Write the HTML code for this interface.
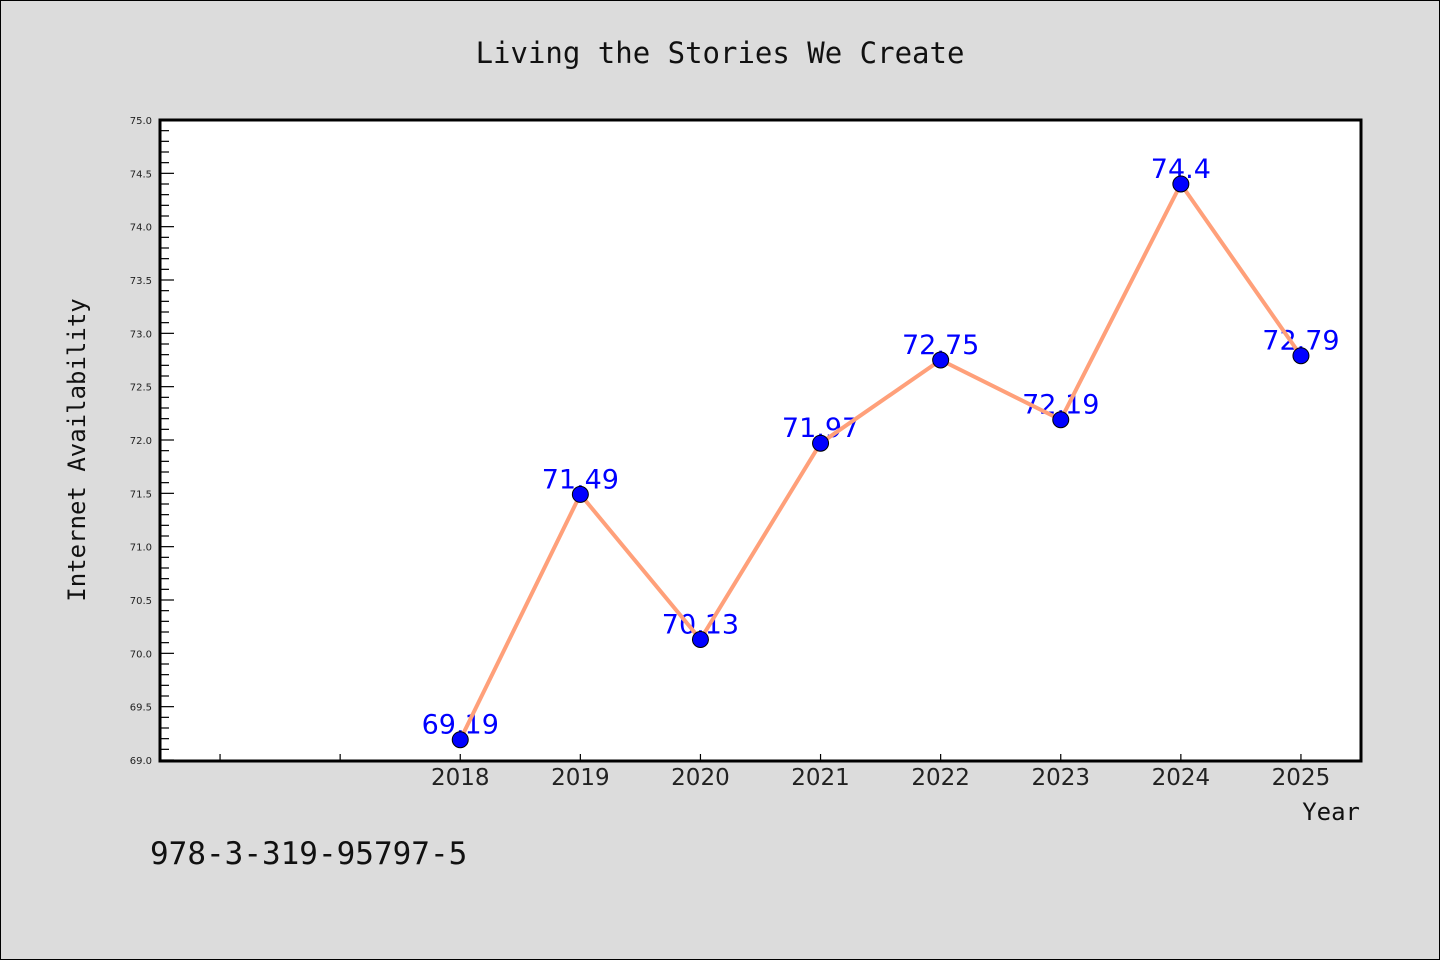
<!DOCTYPE html>
<html><head><meta charset="utf-8"><style>
html,body{margin:0;padding:0;background:#dcdcdc;}
svg{display:block;}
</style></head><body>
<svg id="chart" width="1440" height="960" xmlns="http://www.w3.org/2000/svg">
<rect x="0.5" y="0.5" width="1439" height="959" fill="#dcdcdc" stroke="#000" stroke-width="1"/>
<text x="720" y="63" text-anchor="middle" font-family="'DejaVu Sans Mono','Liberation Mono',monospace" font-size="29" fill="#111">Living the Stories We Create</text>
<rect x="160" y="120" width="1201" height="641" fill="#fff"/>
<g id="yaxis"></g>
<g id="xaxis"></g>
<g id="labels"></g>
<g id="series"></g>
<rect x="160" y="120" width="1201" height="641" fill="none" stroke="#000" stroke-width="3"/>
<text transform="translate(85,450) rotate(-90)" text-anchor="middle" font-family="'DejaVu Sans Mono','Liberation Mono',monospace" font-size="24" fill="#111">Internet Availability</text>
<text x="1360" y="820" text-anchor="end" font-family="'DejaVu Sans Mono','Liberation Mono',monospace" font-size="24" fill="#111">Year</text>
<text x="150" y="864" font-family="'DejaVu Sans Mono','Liberation Mono',monospace" font-size="31" fill="#111">978-3-319-95797-5</text>
</svg>
<script>
const categories = [2018, 2019, 2020, 2021, 2022, 2023, 2024, 2025];
const values = [69.19, 71.49, 70.13, 71.97, 72.75, 72.19, 74.4, 72.79];
const valueLabels = ["69.19", "71.49", "70.13", "71.97", "72.75", "72.19", "74.4", "72.79"];
const yTicks = [69.0, 69.5, 70.0, 70.5, 71.0, 71.5, 72.0, 72.5, 73.0, 73.5, 74.0, 74.5, 75.0];
const xTickYears = [2016, 2017, 2018, 2019, 2020, 2021, 2022, 2023, 2024, 2025];

const NS = "http://www.w3.org/2000/svg";
const X0 = 160, X1 = 1361, Y0 = 760, Y1 = 120;
const xMin = 2015.5, xMax = 2025.5, yMin = 69, yMax = 75;
const xs = v => X0 + (v - xMin) / (xMax - xMin) * (X1 - X0);
const ys = v => Y0 - (v - yMin) / (yMax - yMin) * (Y0 - Y1);
function mk(tag, attrs, parent) {
  const e = document.createElementNS(NS, tag);
  for (const k in attrs) e.setAttribute(k, attrs[k]);
  parent.appendChild(e);
  return e;
}
const yg = document.getElementById('yaxis');
for (let v = yMin; v <= yMax + 1e-9; v += 0.1) {
  const major = Math.abs(v * 2 - Math.round(v * 2)) < 1e-6;
  const t = mk('line', {x1: X0, x2: X0 + (major ? 14 : 9), y1: ys(v), y2: ys(v), stroke: '#000', 'stroke-width': 1.2}, yg);
  
  
}
yTicks.forEach(v => {
  const t = mk('text', {x: 152, y: ys(v) + 4, 'text-anchor': 'end', 'font-family': "'DejaVu Sans','Liberation Sans',sans-serif", 'font-size': 10, fill: '#222'}, yg);
  t.textContent = v.toFixed(1);
  
  
});
const xg = document.getElementById('xaxis');
xTickYears.forEach(yr => {
  const t = mk('line', {x1: xs(yr), x2: xs(yr), y1: Y0, y2: Y0 - 6, stroke: '#000', 'stroke-width': 1.2}, xg);
  
  
});
categories.forEach(yr => {
  const t = mk('text', {x: xs(yr), y: 785, 'text-anchor': 'middle', 'font-family': "'DejaVu Sans','Liberation Sans',sans-serif", 'font-size': 23, fill: '#222'}, xg);
  t.textContent = yr;
  
  
});
const lg = document.getElementById('labels');
categories.forEach((yr, i) => {
  const t = mk('text', {x: xs(yr), y: ys(values[i]) - 6, 'text-anchor': 'middle', 'font-family': "'DejaVu Sans','Liberation Sans',sans-serif", 'font-size': 27, fill: '#0000ff'}, lg);
  t.textContent = valueLabels[i];
  
  
});
const sg = document.getElementById('series');
const pl = mk('polyline', {points: categories.map((yr, i) => xs(yr) + ',' + ys(values[i])).join(' '), fill: 'none', stroke: '#ffa07a', 'stroke-width': 4, 'stroke-linejoin': 'round'}, sg);


categories.forEach((yr, i) => {
  const c = mk('circle', {cx: xs(yr), cy: ys(values[i]), r: 8, fill: '#0000ff', stroke: '#000', 'stroke-width': 1}, sg);
  
  
});
</script>
</body></html>
